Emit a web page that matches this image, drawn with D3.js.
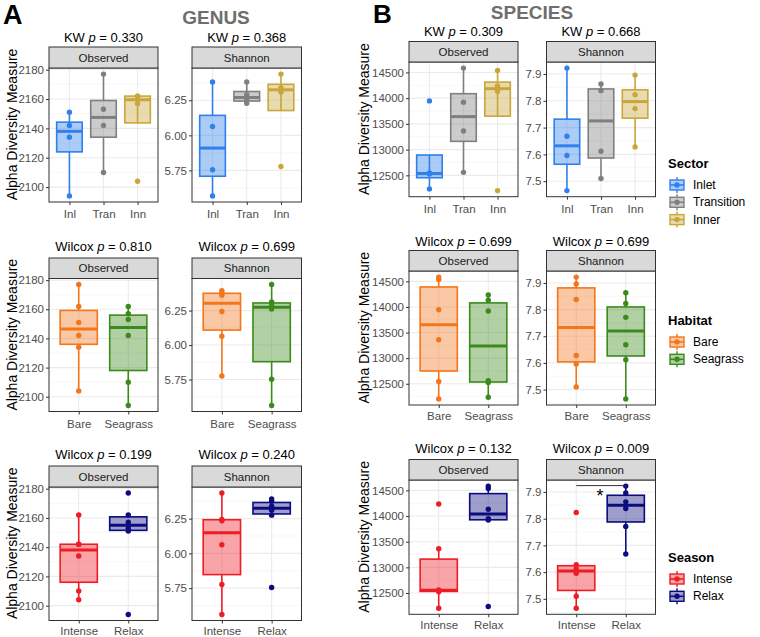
<!DOCTYPE html>
<html><head><meta charset="utf-8">
<script src="https://cdn.jsdelivr.net/npm/d3@7"></script>
<style>
body{margin:0;background:#fff}
svg{display:block}
text{font-family:Arial,"Liberation Sans",Helvetica,sans-serif}
</style>
</head><body>
<svg id="c" width="760" height="637"></svg>
<script>
// ---------------- DATA ----------------
const sectorCats = ["Inl", "Tran", "Inn"];
const habitatCats = ["Bare", "Seagrass"];
const seasonCats = ["Intense", "Relax"];
const sectorLegend = ["Inlet", "Transition", "Inner"];
const habitatLegend = ["Bare", "Seagrass"];
const seasonLegend = ["Intense", "Relax"];
const metrics = ["Observed", "Shannon"];

const genusObsSector = [[2094, 2134, 2142, 2151], [2110, 2142, 2153, 2177], [2104, 2157, 2162, 2162]];
const genusShanSector = [[5.568, 5.755, 6.063, 6.381], [6.229, 6.25, 6.29, 6.381], [5.778, 6.31, 6.34, 6.437]];
const genusObsHabitat = [[2104, 2134, 2142, 2151, 2162, 2177], [2094, 2110, 2142, 2153, 2157, 2162]];
const genusShanHabitat = [[5.776, 6.064, 6.243, 6.362, 6.38, 6.395], [5.562, 5.752, 6.262, 6.286, 6.312, 6.439]];
const genusObsSeason = [[2104, 2110, 2134, 2142, 2142, 2162], [2094, 2151, 2153, 2157, 2162, 2177]];
const genusShanSeason = [[5.561, 5.776, 6.062, 6.234, 6.245, 6.434], [5.755, 6.275, 6.31, 6.34, 6.375, 6.392]];

const speciesObsSector = [[12237, 12526, 12545, 13947], [12558, 13362, 13921, 14584], [12204, 14133, 14236, 14539]];
const speciesShanSector = [[7.465, 7.596, 7.668, 7.922], [7.510, 7.612, 7.838, 7.863], [7.628, 7.771, 7.823, 7.896]];
const speciesObsHabitat = [[12204, 12545, 13362, 13947, 14539, 14584], [12237, 12526, 12558, 13921, 14133, 14236]];
const speciesShanHabitat = [[7.510, 7.596, 7.628, 7.838, 7.896, 7.922], [7.465, 7.612, 7.668, 7.771, 7.823, 7.863]];
const speciesObsSeason = [[12204, 12526, 12545, 12558, 13362, 14236], [12237, 13921, 13947, 14133, 14539, 14584]];
const speciesShanSeason = [[7.465, 7.510, 7.596, 7.612, 7.628, 7.823], [7.668, 7.771, 7.838, 7.863, 7.896, 7.922]];

const genusObsTicks = [2100, 2120, 2140, 2160, 2180];
const genusShanTicks = [5.75, 6.00, 6.25];
const speciesObsTicks = [12500, 13000, 13500, 14000, 14500];
const speciesShanTicks = [7.5, 7.6, 7.7, 7.8, 7.9];

const genusTests = ["KW", "Wilcox", "Wilcox"];
const genusPObs = ["0.330", "0.810", "0.199"];
const genusPShan = ["0.368", "0.699", "0.240"];
const speciesTests = ["KW", "Wilcox", "Wilcox"];
const speciesPObs = ["0.309", "0.699", "0.132"];
const speciesPShan = ["0.668", "0.699", "0.009"];

// ---------------- STYLE ----------------
const sectorColors = ["#2F80ED", "#7F7F7F", "#C9A63A"];
const habitatColors = ["#F3761B", "#3B8A1B"];
const seasonColors = ["#EE1C25", "#0C0C80"];

const svg = d3.select("#c");

function boxStats(vals) {
  const s = vals.slice().sort(d3.ascending);
  const q1 = d3.quantileSorted(s, 0.25), med = d3.quantileSorted(s, 0.5), q3 = d3.quantileSorted(s, 0.75);
  const iqr = q3 - q1;
  const lo = d3.min(s.filter(v => v >= q1 - 1.5 * iqr));
  const hi = d3.max(s.filter(v => v <= q3 + 1.5 * iqr));
  return {q1, med, q3, lo, hi};
}

function drawPanel(o) {
  const g = svg.append("g");
  const all = o.groups.flat();
  const ext = d3.extent(all);
  const pad = (ext[1] - ext[0]) * 0.05;
  const y = d3.scaleLinear().domain([ext[0] - pad, ext[1] + pad]).range([o.y1, o.y0]);
  const x = d3.scalePoint().domain(o.cats).range([o.x0, o.x1]).padding(0.6);
  const step = x.step();
  g.append("rect").attr("x", o.x0).attr("y", o.y0).attr("width", o.x1 - o.x0).attr("height", o.y1 - o.y0).attr("fill", "#fff");
  const tk = o.ticks, st = tk[1] - tk[0];
  const minors = [];
  for (let i = -1; i < tk.length; i++) {
    const v = tk[0] + st * (i + 0.5);
    if (v > y.domain()[0] && v < y.domain()[1]) minors.push(v);
  }
  g.selectAll(null).data(minors).enter().append("line")
    .attr("x1", o.x0).attr("x2", o.x1).attr("y1", d => y(d)).attr("y2", d => y(d))
    .attr("stroke", "#F2F2F2").attr("stroke-width", 0.6);
  g.selectAll(null).data(tk).enter().append("line")
    .attr("x1", o.x0).attr("x2", o.x1).attr("y1", d => y(d)).attr("y2", d => y(d))
    .attr("stroke", "#EBEBEB").attr("stroke-width", 1.1);
  g.selectAll(null).data(o.cats).enter().append("line")
    .attr("x1", d => x(d)).attr("x2", d => x(d)).attr("y1", o.y0).attr("y2", o.y1)
    .attr("stroke", "#EBEBEB").attr("stroke-width", 1.1);
  const bw = step * 0.75;
  o.groups.forEach((vals, i) => {
    const c = o.colors[i], cx = x(o.cats[i]);
    const b = boxStats(vals);
    g.append("line").attr("x1", cx).attr("x2", cx).attr("y1", y(b.q3)).attr("y2", y(b.hi)).attr("stroke", c).attr("stroke-width", 1.6);
    g.append("line").attr("x1", cx).attr("x2", cx).attr("y1", y(b.q1)).attr("y2", y(b.lo)).attr("stroke", c).attr("stroke-width", 1.6);
    g.append("rect").attr("x", cx - bw / 2).attr("y", y(b.q3)).attr("width", bw).attr("height", y(b.q1) - y(b.q3))
      .attr("fill", c).attr("fill-opacity", 0.4).attr("stroke", c).attr("stroke-width", 1.6);
    g.append("line").attr("x1", cx - bw / 2).attr("x2", cx + bw / 2).attr("y1", y(b.med)).attr("y2", y(b.med)).attr("stroke", c).attr("stroke-width", 3);
    g.selectAll(null).data(vals).enter().append("circle")
      .attr("cx", cx).attr("cy", d => y(d)).attr("r", 2.7).attr("fill", c);
  });
  g.append("rect").attr("x", o.x0).attr("y", o.y0).attr("width", o.x1 - o.x0).attr("height", o.y1 - o.y0)
    .attr("fill", "none").attr("stroke", "#333").attr("stroke-width", 1);
  g.append("rect").attr("x", o.x0).attr("y", o.sy).attr("width", o.x1 - o.x0).attr("height", o.y0 - o.sy)
    .attr("fill", "#D9D9D9").attr("stroke", "#333").attr("stroke-width", 1);
  g.append("text").attr("x", (o.x0 + o.x1) / 2).attr("y", (o.sy + o.y0) / 2 + 4).attr("text-anchor", "middle")
    .attr("font-size", 11.5).attr("fill", "#1A1A1A").text(o.metric);
  const t = g.append("text").attr("x", (o.x0 + o.x1) / 2).attr("y", o.ty + 4.5).attr("text-anchor", "middle").attr("font-size", 13).attr("fill", "#000");
  t.append("tspan").text(o.test + " ");
  t.append("tspan").attr("font-style", "italic").text("p");
  t.append("tspan").text(" = " + o.p);
  const ya = g.append("g").attr("transform", `translate(${o.x0},0)`)
    .call(d3.axisLeft(y).tickValues(tk).tickSize(3).tickPadding(2).tickFormat(o.fmt));
  ya.select(".domain").remove();
  ya.selectAll(".tick line").attr("stroke", "#333");
  ya.selectAll(".tick text").attr("font-size", 11.5).attr("fill", "#4D4D4D").attr("font-family", "Arial,'Liberation Sans',sans-serif");
  const xa = g.append("g").attr("transform", `translate(0,${o.y1})`)
    .call(d3.axisBottom(x).tickSize(3).tickPadding(o.xpad));
  xa.select(".domain").remove();
  xa.selectAll(".tick line").attr("stroke", "#333");
  xa.selectAll(".tick text").attr("font-size", 11.5).attr("fill", "#4D4D4D").attr("font-family", "Arial,'Liberation Sans',sans-serif");
  return {x, y};
}

function yTitle(cx, cy) {
  svg.append("text").attr("transform", `translate(${cx},${cy}) rotate(-90)`).attr("text-anchor", "middle")
    .attr("dy", "0.35em").attr("font-size", 14).attr("fill", "#000").text("Alpha Diversity Measure");
}

// ---------------- LAYOUT ----------------
const gCols = [[49, 158], [192, 301.5]];
const sCols = [[409, 518], [546.5, 655.5]];
const gRows = [{ty: 37.5, sy: 47, y0: 68, y1: 202, xpad: 5}, {ty: 246, sy: 258, y0: 278.5, y1: 411.5, xpad: 5}, {ty: 454.5, sy: 466, y0: 487, y1: 620.5, xpad: 3.5}];
const sRows = [{ty: 31.5, sy: 41.5, y0: 62, y1: 196.7, xpad: 5}, {ty: 241.5, sy: 250.5, y0: 271, y1: 405, xpad: 4}, {ty: 448.5, sy: 459.5, y0: 480, y1: 614.3, xpad: 4}];

const rowCats = [sectorCats, habitatCats, seasonCats];
const rowColors = [sectorColors, habitatColors, seasonColors];
const gObs = [genusObsSector, genusObsHabitat, genusObsSeason];
const gShan = [genusShanSector, genusShanHabitat, genusShanSeason];
const sObs = [speciesObsSector, speciesObsHabitat, speciesObsSeason];
const sShan = [speciesShanSector, speciesShanHabitat, speciesShanSeason];

const f0 = d => d3.format("d")(d);
const f2 = d => d3.format(".2f")(d);
const f1 = d => d3.format(".1f")(d);

let lastPanel;
for (let r = 0; r < 3; r++) {
  const R = gRows[r];
  drawPanel({...R, x0: gCols[0][0], x1: gCols[0][1], cats: rowCats[r], colors: rowColors[r], groups: gObs[r], ticks: genusObsTicks, fmt: f0, metric: metrics[0], test: genusTests[r], p: genusPObs[r]});
  drawPanel({...R, x0: gCols[1][0], x1: gCols[1][1], cats: rowCats[r], colors: rowColors[r], groups: gShan[r], ticks: genusShanTicks, fmt: f2, metric: metrics[1], test: genusTests[r], p: genusPShan[r]});
  yTitle(12, (R.sy + R.y1) / 2);
  const S = sRows[r];
  drawPanel({...S, x0: sCols[0][0], x1: sCols[0][1], cats: rowCats[r], colors: rowColors[r], groups: sObs[r], ticks: speciesObsTicks, fmt: f0, metric: metrics[0], test: speciesTests[r], p: speciesPObs[r]});
  lastPanel = drawPanel({...S, x0: sCols[1][0], x1: sCols[1][1], cats: rowCats[r], colors: rowColors[r], groups: sShan[r], ticks: speciesShanTicks, fmt: f1, metric: metrics[1], test: speciesTests[r], p: speciesPShan[r]});
  yTitle(364, (S.sy + S.y1) / 2);
}

// significance bracket on species season Shannon
{
  const {x, y} = lastPanel;
  const top = d3.max(speciesShanSeason.flat());
  const yy = y(top) - 0.5;
  svg.append("line").attr("x1", x(seasonCats[0])).attr("x2", x(seasonCats[1])).attr("y1", yy).attr("y2", yy).attr("stroke", "#333").attr("stroke-width", 1);
  svg.append("line").attr("x1", x(seasonCats[1])).attr("x2", x(seasonCats[1])).attr("y1", yy).attr("y2", yy + 2).attr("stroke", "#333").attr("stroke-width", 1);
  svg.append("text").attr("x", (x(seasonCats[0]) + x(seasonCats[1])) / 2 - 1).attr("y", yy + 16).attr("text-anchor", "middle").attr("font-size", 18).attr("fill", "#000").text("*");
}

// headings
svg.append("text").attr("x", 3).attr("y", 24).attr("font-size", 27).attr("font-weight", "bold").attr("fill", "#000").text("A");
svg.append("text").attr("x", 373).attr("y", 23).attr("font-size", 26).attr("font-weight", "bold").attr("fill", "#000").text("B");
svg.append("text").attr("x", 216).attr("y", 24).attr("text-anchor", "middle").attr("font-size", 19).attr("font-weight", "bold").attr("fill", "#6E6E6E").text("GENUS");
svg.append("text").attr("x", 532).attr("y", 19).attr("text-anchor", "middle").attr("font-size", 19).attr("font-weight", "bold").attr("fill", "#6E6E6E").text("SPECIES");

// legends
function legend(title, labels, colors, ty) {
  const g = svg.append("g");
  g.append("text").attr("x", 668).attr("y", ty + 5).attr("font-size", 13).attr("font-weight", "bold").attr("fill", "#000").text(title);
  labels.forEach((lab, i) => {
    const cy = ty + 22 + i * 17.3, cx = 677, c = colors[i];
    g.append("line").attr("x1", cx).attr("x2", cx).attr("y1", cy - 8).attr("y2", cy + 8).attr("stroke", c).attr("stroke-width", 1.4);
    g.append("rect").attr("x", cx - 7).attr("y", cy - 5).attr("width", 14).attr("height", 10).attr("fill", "#fff");
    g.append("rect").attr("x", cx - 7).attr("y", cy - 5).attr("width", 14).attr("height", 10).attr("fill", c).attr("fill-opacity", 0.4).attr("stroke", c).attr("stroke-width", 1.4);
    g.append("line").attr("x1", cx - 7).attr("x2", cx + 7).attr("y1", cy).attr("y2", cy).attr("stroke", c).attr("stroke-width", 1.6);
    g.append("circle").attr("cx", cx).attr("cy", cy).attr("r", 2.7).attr("fill", c);
    g.append("text").attr("x", 693).attr("y", cy + 4).attr("font-size", 12).attr("fill", "#000").text(lab);
  });
}
legend("Sector", sectorLegend, sectorColors, 163);
legend("Habitat", habitatLegend, habitatColors, 320);
legend("Season", seasonLegend, seasonColors, 557);
</script>
</body></html>
